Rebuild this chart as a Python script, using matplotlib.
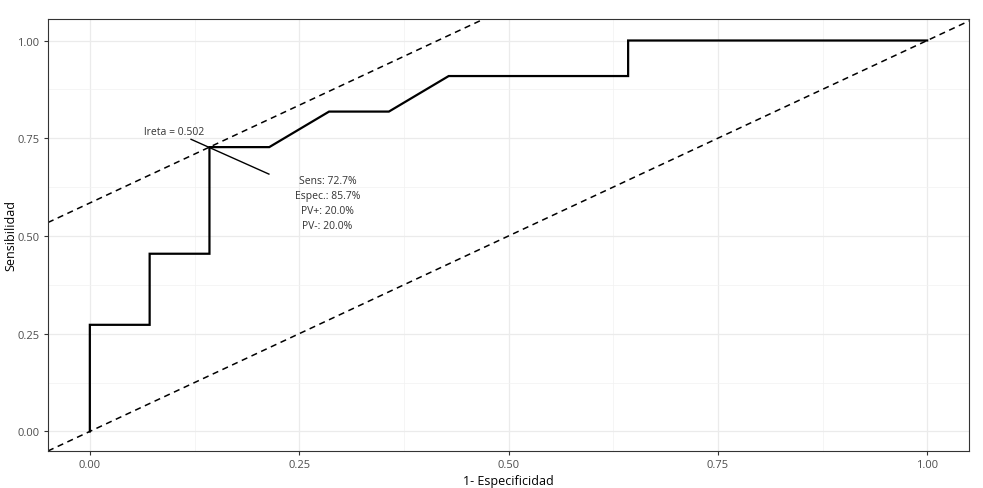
import matplotlib
matplotlib.use("Agg")
import matplotlib.pyplot as plt

plt.rcParams['font.family'] = ['Open Sans', 'DejaVu Sans']

# ROC curve vertices (1 - specificity, sensitivity)
fpr = [0.0, 0.0, 1/14, 1/14, 2/14, 2/14, 3/14, 4/14, 5/14, 6/14, 9/14, 9/14, 1.0]
tpr = [0.0, 3/11, 3/11, 5/11, 5/11, 8/11, 8/11, 9/11, 9/11, 10/11, 10/11, 1.0, 1.0]

# optimal cut point
cut_x = 2/14
cut_y = 8/11
cut_label = "lreta = 0.502"
stats_lines = ["Sens: 72.7%", "Espec.: 85.7%", "PV+: 20.0%", "PV-: 20.0%"]

ticks = [0.0, 0.25, 0.5, 0.75, 1.0]
tick_labels = ["0.00", "0.25", "0.50", "0.75", "1.00"]
minor = [0.125, 0.375, 0.625, 0.875]

fig = plt.figure(figsize=(9.83, 4.89), dpi=100)
ax = fig.add_axes([0.0488, 0.0757, 0.937, 0.8834])

ax.set_xlim(-0.05, 1.05)
ax.set_ylim(-0.05, 1.055)
ax.set_xticks(ticks)
ax.set_xticklabels(tick_labels)
ax.set_yticks(ticks)
ax.set_yticklabels(tick_labels)
ax.set_xticks(minor, minor=True)
ax.set_yticks(minor, minor=True)
ax.grid(which='major', color='#ebebeb', lw=0.9)
ax.grid(which='minor', color='#f2f2f2', lw=0.5)
ax.tick_params(which='minor', length=0)
ax.tick_params(which='major', length=3, color='#333333', labelsize=8, labelcolor='#4d4d4d', pad=3)
for s in ax.spines.values():
    s.set_color('#333333')
    s.set_linewidth(0.8)
ax.set_axisbelow(True)

# diagonal reference and tangent through cut point
ax.axline((0, 0), slope=1, color='black', ls=(0, (4, 3)), lw=1.1)
ax.axline((cut_x, cut_y), slope=1, color='black', ls=(0, (4, 3)), lw=1.1)

ax.plot(fpr, tpr, color='black', lw=1.6, solid_joinstyle='miter')

# cut point pointer
ax.plot([cut_x - 0.022, cut_x + 0.071], [cut_y + 0.02, cut_y - 0.069], color='black', lw=1.0)
ax.text(cut_x - 0.042, cut_y + 0.041, cut_label, fontsize=7.5, ha='center', va='center', color='#333333')
for i, line in enumerate(stats_lines):
    ax.text(cut_x + 0.141, cut_y - 0.086 - i * 0.0385, line, fontsize=7.5, ha='center', va='center', color='#333333')

ax.set_xlabel("1- Especificidad", fontsize=9, labelpad=3)
ax.set_ylabel("Sensibilidad", fontsize=9)
ax.yaxis.set_label_coords(-0.033, 0.5)

fig.savefig("out.png", dpi=100, facecolor='white')
